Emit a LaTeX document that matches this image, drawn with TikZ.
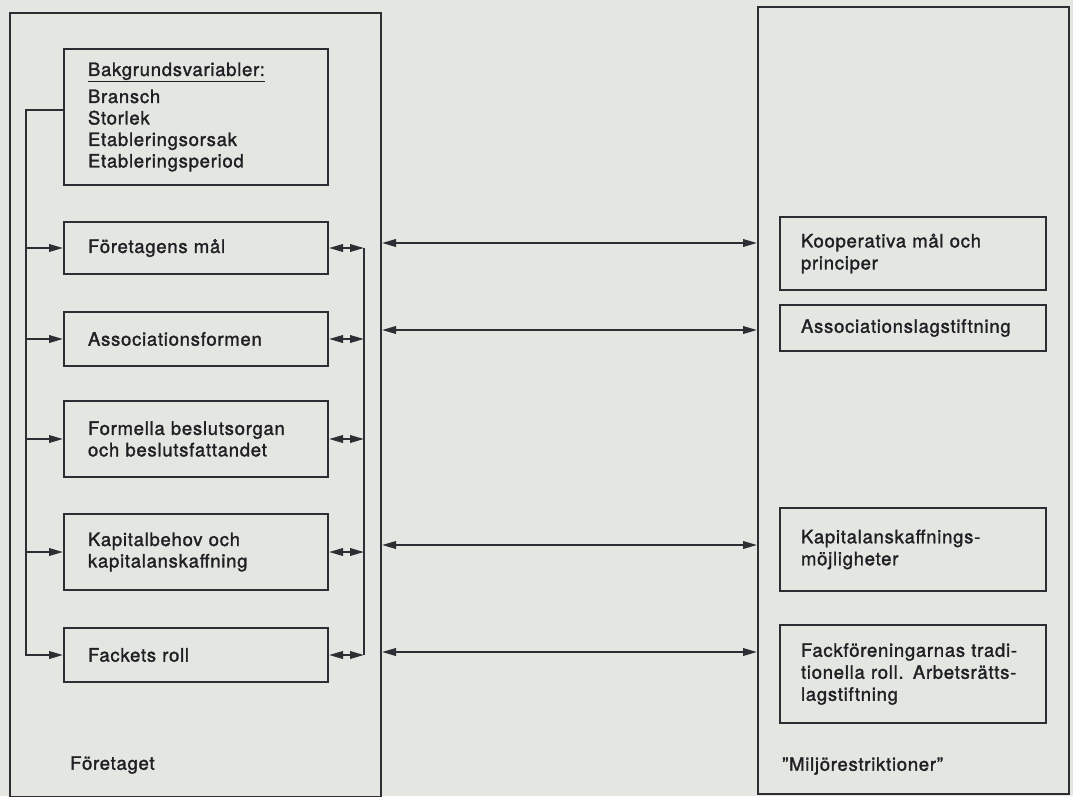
\documentclass[tikz,border=0pt]{standalone}
\usepackage{fontspec}
\setmainfont{TeX Gyre Heros}[LetterSpace=4, FakeBold=1.6]
\usetikzlibrary{arrows.meta}
\definecolor{bg}{RGB}{227,230,225}
\definecolor{ink}{RGB}{45,45,52}
\definecolor{txt}{RGB}{32,32,36}
\begin{document}
\begin{tikzpicture}[x=1pt,y=-1pt,
  >={Triangle[length=14pt,width=7.5pt]},
  every node/.style={font=\fontsize{18.5}{21.5}\selectfont, text=txt},
  ln/.style={draw=ink, line width=2pt},
  lbox/.style={ln, anchor=north west, align=left, inner xsep=24pt, inner ysep=0pt, text width=216pt},
  rbox/.style={ln, anchor=north west, align=left, inner xsep=21pt, inner ysep=0pt, text width=224pt,
    font=\fontsize{18.5}{22}\selectfont},
  outer/.style={ln, anchor=north west, inner sep=0pt},
  lbl/.style={anchor=west, inner sep=0pt}]
\fill[bg] (0,0) rectangle (1073,796);
\useasboundingbox (0,0) rectangle (1073,796);

% outer frames
\node[outer, minimum width=371pt, minimum height=784pt] (firm) at (9,12) {};
\node[outer, minimum width=311pt, minimum height=787pt] (env) at (757,6) {};
\node[lbl] (firmlbl) at (70,765) {Företaget};
\node[lbl] (envlbl) at (782,766) {”Miljörestriktioner”};

% left boxes
\node[lbox, minimum height=136pt] (bk) at (63,48)
  {\underline{Bakgrundsvariabler:}\\[5.5pt] Bransch\\ Storlek\\ Etableringsorsak\\ Etableringsperiod};
\node[lbox, minimum height=52pt] (fm) at (63,221) {Företagens mål};
\node[lbox, minimum height=54pt] (af) at (63,311) {Associationsformen};
\node[lbox, minimum height=76pt] (fb) at (63,400) {Formella beslutsorgan\\ och beslutsfattandet};
\node[lbox, minimum height=76pt] (kb) at (63,513) {Kapitalbehov och\\ kapitalanskaffning};
\node[lbox, minimum height=54pt] (fr) at (63,627) {Fackets roll};

% right boxes
\node[rbox, minimum height=73pt] (kp) at (779,216) {Kooperativa mål och\\ principer};
\node[rbox, minimum height=46pt] (al) at (779,304) {Associationslagstiftning};
\node[rbox, minimum height=83pt] (ka) at (779,507) {Kapitalanskaffnings-\\ möjligheter};
\node[rbox, minimum height=98pt] (ff) at (779,624)
  {\mbox{Fackföreningarnas tradi-}\\ \mbox{tionella roll. Arbetsrätts-}\\ lagstiftning};

% left bus
\coordinate (lb) at (26,110);
\draw[ln,->] (bk.west |- lb) -- (lb) |- (fr.west);
\foreach \n in {fm,af,fb,kb} \draw[ln,->] (lb |- \n.west) -- (\n.west);

% right bus
\coordinate (rb) at (364,0);
\draw[ln] (rb |- fm.east) -- (rb |- fr.east);
\foreach \n in {fm,af,fb,kb,fr} \draw[ln,<->] (\n.east) -- (rb |- \n.east);

% long arrows between firm and environment
\coordinate (h1) at (0,243);
\coordinate (h2) at (0,330);
\coordinate (h3) at (0,545);
\coordinate (h4) at (0,652);
\foreach \i in {1,2,3,4} \draw[ln,<->] (firm.east |- h\i) -- (env.west |- h\i);
\end{tikzpicture}
\end{document}
